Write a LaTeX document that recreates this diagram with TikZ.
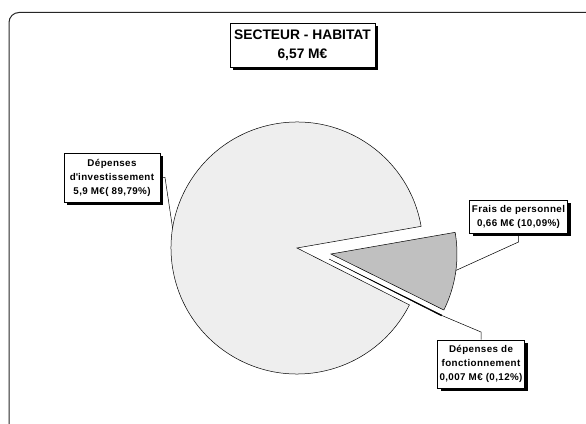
\documentclass[tikz,border=0pt]{standalone}
\usepackage{fontspec}
\setmainfont{Liberation Sans}
\newfontfamily\lblfont[LetterSpace=4]{Liberation Sans}
\usetikzlibrary{shadows,calc}
\definecolor{pieA}{HTML}{EEEEEE}
\definecolor{pieB}{HTML}{C0C0C0}
\begin{document}
\begin{tikzpicture}[x=1pt,y=1pt,
  lblbox/.style={draw=black, line width=0.8pt, fill=white, align=center, inner sep=0pt,
    font=\lblfont\bfseries\fontsize{9.8}{14}\selectfont,
    drop shadow={shadow xshift=3pt, shadow yshift=-3pt, fill=black, opacity=1}},
  titlebox/.style={lblbox, font=\bfseries\fontsize{13.8}{19}\selectfont},
  slice/.style={draw=black, line width=0.5pt},
  leader/.style={draw=black, line width=0.5pt}]
\useasboundingbox (0,0) rectangle (586,423);
\begin{scope}
\clip (0,0) rectangle (586,423);
\draw[line width=1pt, black!85, rounded corners=10pt] (9,-20) rectangle (620,410.5);
\end{scope}
% pie
\coordinate (C) at (297,175);
\coordinate (G) at (331,169);
\coordinate (T) at (329,164);
\filldraw[slice, fill=pieA] (C) -- ++(9.9:126) arc[start angle=9.9, end angle=333.15, radius=126] -- cycle;
\filldraw[slice, fill=pieB] (G) -- ++(-26.4:126) arc[start angle=-26.4, end angle=9.9, radius=126] -- cycle;
\filldraw[slice, fill=black, line width=0.4pt] (T) -- ++(-26.85:126) arc[start angle=-26.85, end angle=-26.4, radius=126] -- cycle;
\coordinate (pA) at ($(C)+(170.9:126)$);
\coordinate (pB) at ($(G)+(-7.5:126)$);
\coordinate (pT) at ($(T)+(-26.6:126)$);
% boxes
\node[titlebox, minimum width=145pt, minimum height=44pt] (title) at (302.5,377.5) {SECTEUR - HABITAT\\6,57 M€};
\node[lblbox, minimum width=96pt, minimum height=49pt] (inv) at (112,245.5) {Dépenses\\d\textquotesingle investissement\\5,9 M€( 89,79\%)};
\node[lblbox, minimum width=98pt, minimum height=33pt] (frais) at (518.5,206.5) {Frais de personnel\\0,66 M€ (10,09\%)};
\node[lblbox, minimum width=87pt, minimum height=48pt] (fonct) at (481,59) {Dépenses de\\fonctionnement\\0,007 M€ (0,12\%)};
% leaders
\coordinate (kA) at (165,245.5);
\coordinate (kB) at (518.5,181);
\coordinate (kT) at (481,91);
\draw[leader] (inv.east) -- (kA) -- (pA);
\draw[leader] (pB) -- (kB) -- (frais.south);
\draw[leader] (pT) -- (kT) -- (fonct.north);
\end{tikzpicture}
\end{document}
